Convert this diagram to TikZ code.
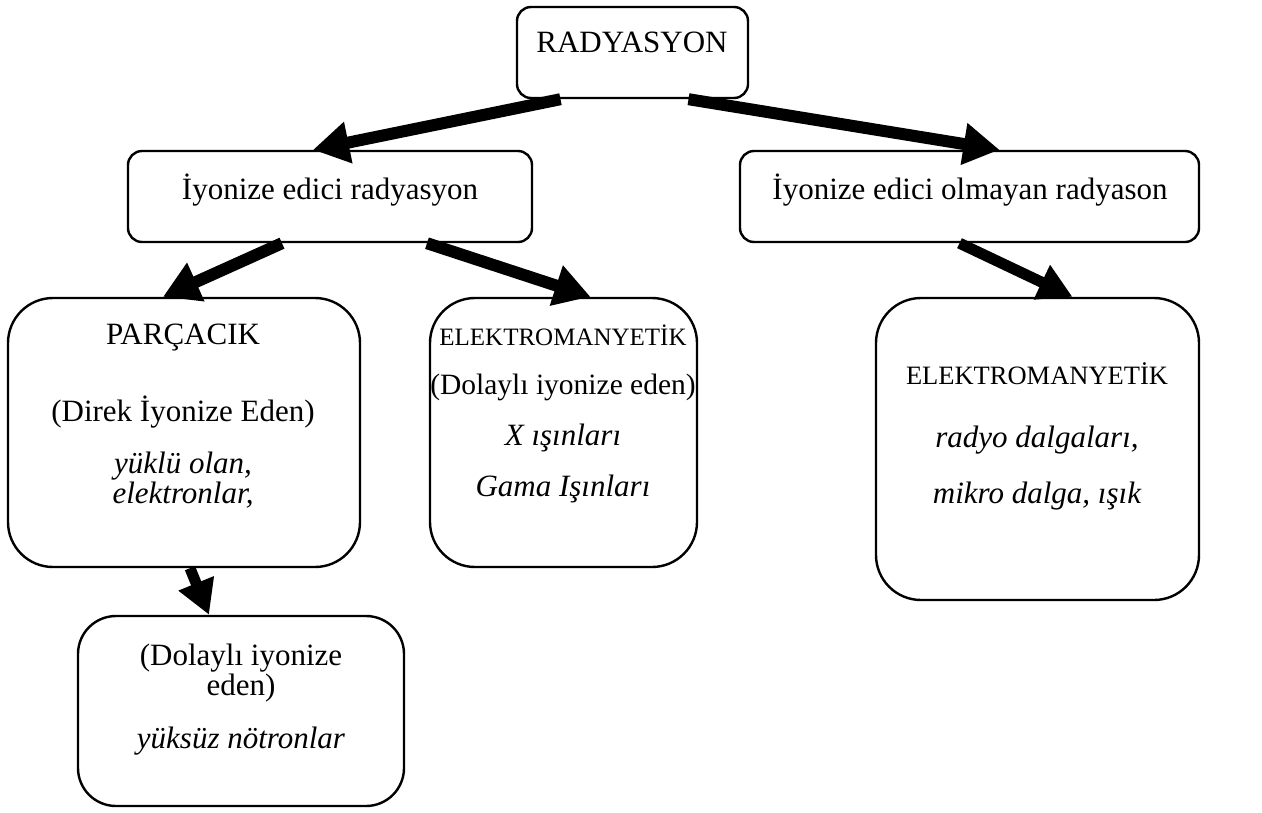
\documentclass[tikz,border=0pt]{standalone}
\usepackage{fontspec}
\setmainfont{Liberation Serif}
\usetikzlibrary{arrows.meta,calc}
\tikzset{
  box/.style={draw, line width=2.4pt, rounded corners=#1, inner sep=0pt},
  box/.default=14pt,
  txt/.style={inner sep=0pt, font=\fontsize{31}{37}\selectfont},
  itxt/.style={inner sep=0pt, font=\fontsize{31}{37}\selectfont\itshape},
  smalltxt/.style={inner sep=0pt, font=\fontsize{25}{30}\selectfont},
  bigarrow/.style={line width=12pt, -{Triangle[length=36pt,width=40pt]}},
  smallarrow/.style={line width=11pt, -{Triangle[length=34pt,width=36pt]}}
}
\begin{document}
\begin{tikzpicture}[x=1pt,y=-1pt]
\useasboundingbox (0,0) rectangle (1262,812);
% boxes
\node[box, minimum width=231pt, minimum height=91pt] (rad) at (632.5,52.5) {};
\node[box, minimum width=404pt, minimum height=91pt] (ion) at (330,196.5) {};
\node[box, minimum width=459pt, minimum height=91pt] (non) at (969.5,196.5) {};
\node[box=45pt, minimum width=352pt, minimum height=269pt] (par) at (184,432.5) {};
\node[box=45pt, minimum width=267pt, minimum height=269pt] (em1) at (563.5,432.5) {};
\node[box=45pt, minimum width=323pt, minimum height=302pt] (em2) at (1037.5,449) {};
\node[box=38pt, minimum width=326pt, minimum height=190pt] (bot) at (241,711) {};
% texts
\node[txt] (t1) at (632,42) {RADYASYON};
\node[txt] (t2) at (330,190) {İyonize edici radyasyon};
\node[txt] (t3) at (970,190) {İyonize edici olmayan radyason};
\node[txt] (p1) at (183,338) {PARÇACIK};
\node[txt] (p2) at (183,412) {(Direk İyonize Eden)};
\node[itxt] (p3) at (183,466) {yüklü olan,};
\node[itxt] (p4) at (183,495) {elektronlar,};
\node[smalltxt] (m1) at (563,335) {ELEKTROMANYETİK};
\node[txt, font=\fontsize{29.5}{35}\selectfont] (m2) at (563,387) {(Dolaylı iyonize eden)};
\node[itxt] (m3) at (563,438) {X ışınları};
\node[itxt] (m4) at (563,489) {Gama Işınları};
\node[smalltxt, font=\fontsize{26.5}{31}\selectfont] (r1) at (1037,374) {ELEKTROMANYETİK};
\node[itxt] (r2) at (1037,440) {radyo dalgaları,};
\node[itxt] (r3) at (1037,496) {mikro dalga, ışık};
\node[txt] (b1) at (241,658) {(Dolaylı iyonize};
\node[txt] (b2) at (241,688) {eden)};
\node[itxt] (b3) at (241,741) {yüksüz nötronlar};
% arrows
\draw[bigarrow] ([xshift=-72pt]rad.south) -- ([xshift=-17pt]ion.north);
\draw[bigarrow] ([xshift=56pt]rad.south) -- ([xshift=30pt]non.north);
\draw[bigarrow] ([xshift=-48pt]ion.south) -- ([xshift=-21pt]par.north);
\draw[bigarrow] ([xshift=97pt]ion.south) -- ([xshift=27pt]em1.north);
\draw[smallarrow] ([xshift=-10pt]non.south) -- ([xshift=35pt]em2.north);
\draw[smallarrow] ([xshift=6pt]par.south) -- ([xshift=-32pt]bot.north);
\end{tikzpicture}
\end{document}
